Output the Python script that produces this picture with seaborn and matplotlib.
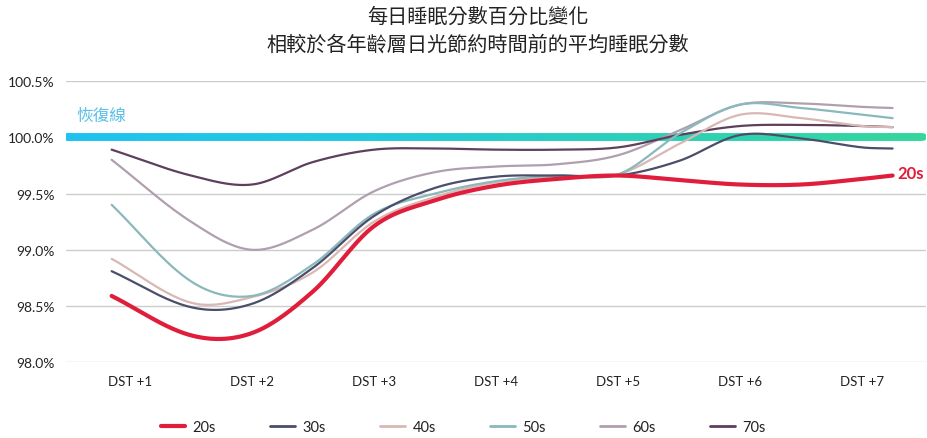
import numpy as np
import pandas as pd
import matplotlib
matplotlib.use("Agg")
import matplotlib.pyplot as plt
from matplotlib.collections import LineCollection
from matplotlib.colors import LinearSegmentedColormap
from matplotlib.lines import Line2D
import seaborn as sns

# ---------------- data ----------------
day_pos = [0.85, 1.5, 2.0, 2.5, 3.0, 3.5, 4.0, 4.5, 5.0, 5.5, 6.0, 6.5, 7.0, 7.25]
tick_days = [1, 2, 3, 4, 5, 6, 7]
tick_labels = ["DST +1", "DST +2", "DST +3", "DST +4", "DST +5", "DST +6", "DST +7"]
groups = ["20s", "30s", "40s", "50s", "60s", "70s"]

s20 = [98.59, 98.24, 98.26, 98.63, 99.21, 99.44, 99.57, 99.63, 99.66, 99.62, 99.58, 99.58, 99.63, 99.66]
s30 = [98.81, 98.49, 98.52, 98.84, 99.30, 99.55, 99.65, 99.66, 99.66, 99.79, 100.02, 99.99, 99.91, 99.90]
s40 = [98.92, 98.53, 98.58, 98.80, 99.25, 99.47, 99.60, 99.65, 99.67, 99.94, 100.20, 100.17, 100.10, 100.09]
s50 = [99.40, 98.72, 98.59, 98.87, 99.32, 99.50, 99.61, 99.66, 99.67, 100.03, 100.29, 100.26, 100.20, 100.17]
s60 = [99.80, 99.25, 99.00, 99.18, 99.52, 99.69, 99.74, 99.76, 99.84, 100.06, 100.29, 100.30, 100.27, 100.26]
s70 = [99.89, 99.66, 99.58, 99.78, 99.89, 99.90, 99.89, 99.89, 99.91, 100.02, 100.10, 100.11, 100.10, 100.09]
series = [s20, s30, s40, s50, s60, s70]

recovery_value = 100.0
recovery_label = "恢復線"
y_ticks = [98.0, 98.5, 99.0, 99.5, 100.0, 100.5]
title_lines = ["每日睡眠分數百分比變化", "相較於各年齡層日光節約時間前的平均睡眠分數"]

# ---------------- styling ----------------
colors = {"20s": "#E01E3C", "30s": "#4A4E6A", "40s": "#D8B8B4",
          "50s": "#8AB8BC", "60s": "#B09FAE", "70s": "#5E3F5C"}
widths = {"20s": 3.0, "30s": 1.6, "40s": 1.6, "50s": 1.6, "60s": 1.6, "70s": 1.6}

sns.set_theme(style="white")
plt.rcParams["font.family"] = ["Noto Sans CJK TC", "DejaVu Sans"]


def smooth_curve(x, y, xn):
    """Cubic Hermite (Catmull-Rom style) curve through the given points."""
    x = np.asarray(x, float)
    y = np.asarray(y, float)
    n = len(x)
    h = np.diff(x)
    m = np.zeros(n)
    for k in range(1, n - 1):
        m[k] = (y[k + 1] - y[k - 1]) / (x[k + 1] - x[k - 1])
    m[0] = (y[1] - y[0]) / h[0]
    m[-1] = (y[-1] - y[-2]) / h[-1]
    out = np.empty_like(xn)
    idx = np.clip(np.searchsorted(x, xn) - 1, 0, n - 2)
    for j, (xv, i) in enumerate(zip(xn, idx)):
        t = (xv - x[i]) / h[i]
        h00 = 2 * t**3 - 3 * t**2 + 1
        h10 = t**3 - 2 * t**2 + t
        h01 = -2 * t**3 + 3 * t**2
        h11 = t**3 - t**2
        out[j] = h00 * y[i] + h10 * h[i] * m[i] + h01 * y[i + 1] + h11 * h[i] * m[i + 1]
    return out


fig = plt.figure(figsize=(9.28, 4.39), dpi=100)
ax = fig.add_axes([0.071, 0.1724, 0.927, 0.6408])

xs = np.linspace(day_pos[0], day_pos[-1], 500)
frames = []
for g, vals in zip(groups, series):
    frames.append(pd.DataFrame({"day": xs, "value": smooth_curve(day_pos, vals, xs), "group": g}))
df = pd.concat(frames, ignore_index=True)

# recovery line with gradient
xlim = (0.475, 7.525)
rx = np.linspace(0.45, 7.5, 300)
ry = np.full_like(rx, recovery_value)
pts = np.array([rx, ry]).T.reshape(-1, 1, 2)
segs = np.concatenate([pts[:-1], pts[1:]], axis=1)
cmap = LinearSegmentedColormap.from_list("rec", ["#1FC2F0", "#22C8E0", "#2AD0B8", "#33D69C"])
lc = LineCollection(segs, cmap=cmap, linewidth=5.5, capstyle="round", zorder=1.5)
lc.set_array(np.linspace(0, 1, len(segs)))
ax.add_collection(lc)

order_draw = ["60s", "70s", "40s", "50s", "30s", "20s"]
for g in order_draw:
    sub = df[df["group"] == g]
    sns.lineplot(data=sub, x="day", y="value", color=colors[g], linewidth=widths[g],
                 ax=ax, legend=False, zorder=3 if g != "20s" else 4,
                 solid_capstyle="round")

ax.set_xlim(*xlim)
ax.set_ylim(98.0, 100.5)
ax.set_yticks(y_ticks)
ax.set_yticklabels([f"{v:.1f}%" for v in y_ticks], fontsize=10, color="#222222",
                   family=["Lato", "DejaVu Sans"])
ax.set_xticks(tick_days)
ax.set_xticklabels(tick_labels, fontsize=9.5, color="#222222", family=["Lato", "DejaVu Sans"])
ax.tick_params(axis="both", length=0)
ax.tick_params(axis="x", pad=9)
ax.tick_params(axis="y", pad=8)
ax.grid(axis="y", color="#CCCCCC", linewidth=1.0)
ax.set_axisbelow(True)
for s in ax.spines.values():
    s.set_visible(False)
ax.set_xlabel("")
ax.set_ylabel("")

# labels
ax.text(0.56, recovery_value + 0.19, recovery_label, color="#5BC0E8", fontsize=12,
        ha="left", va="center")
ax.text(day_pos[-1] + 0.04, s20[-1] + 0.02, "20s", color=colors["20s"], fontsize=12,
        fontweight="bold", ha="left", va="center", family=["Lato", "DejaVu Sans"])

fig.text(0.515, 0.961, title_lines[0], ha="center", va="center", fontsize=14.5, color="#222222")
fig.text(0.515, 0.897, title_lines[1], ha="center", va="center", fontsize=14.5, color="#222222")

handles = [Line2D([0], [0], color=colors[g], linewidth=3.0 if g == "20s" else 2.0) for g in groups]
leg = fig.legend(handles, groups, loc="center", bbox_to_anchor=(0.499, 0.025), ncol=6,
                 frameon=False, handlelength=1.7, handletextpad=0.5, columnspacing=3.73,
                 prop={"family": ["Lato", "DejaVu Sans"], "size": 10.5})
for t in leg.get_texts():
    t.set_color("#222222")

fig.savefig("out.png", dpi=100)
